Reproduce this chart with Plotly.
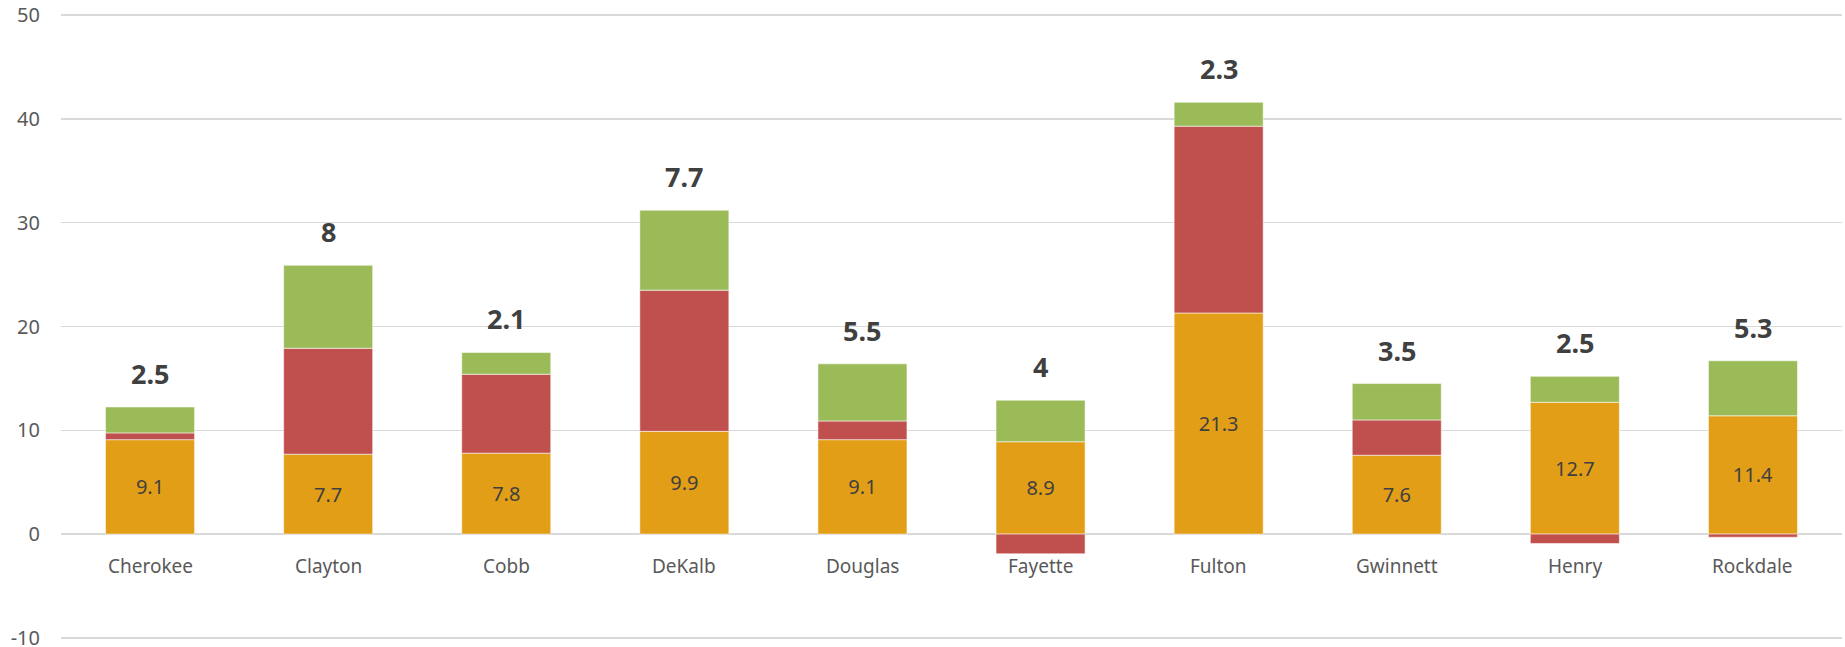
import plotly.graph_objects as go

counties = ["Cherokee", "Clayton", "Cobb", "DeKalb", "Douglas", "Fayette",
            "Fulton", "Gwinnett", "Henry", "Rockdale"]
orange_vals = [9.1, 7.7, 7.8, 9.9, 9.1, 8.9, 21.3, 7.6, 12.7, 11.4]
red_vals = [0.65, 10.2, 7.6, 13.6, 1.8, -1.9, 18.0, 3.4, -0.9, -0.3]
green_vals = [2.5, 8, 2.1, 7.7, 5.5, 4, 2.3, 3.5, 2.5, 5.3]
y_ticks = [-10, 0, 10, 20, 30, 40, 50]

FONT = "Noto Sans"
TXT = "#404040"
line = dict(color="rgba(255,255,255,0.55)", width=1)

fig = go.Figure()
fig.add_trace(go.Bar(
    x=counties, y=orange_vals, marker=dict(color="#E39E17", line=line),
    text=[f"{v:g}" for v in orange_vals], textposition="inside",
    insidetextanchor="middle", textangle=0, constraintext="none",
    textfont=dict(family=FONT, size=20, color=TXT), hoverinfo="skip",
    name="orange"))
fig.add_trace(go.Bar(
    x=counties, y=red_vals, marker=dict(color="#C0504D", line=line),
    hoverinfo="skip", name="red"))
fig.add_trace(go.Bar(
    x=counties, y=green_vals, marker=dict(color="#9BBB59", line=line),
    hoverinfo="skip", name="green"))

annotations = []
for c, o, r, g in zip(counties, orange_vals, red_vals, green_vals):
    top = o + max(r, 0) + g
    annotations.append(dict(
        x=c, y=top, xref="x", yref="y", text=f"<b>{g:g}</b>",
        showarrow=False, yanchor="bottom", yshift=13,
        font=dict(family=FONT, size=27, color=TXT)))
    annotations.append(dict(
        x=c, y=0, xref="x", yref="y", text=c, showarrow=False,
        yanchor="middle", yshift=-32,
        font=dict(family=FONT, size=19, color="#595959")))

fig.update_layout(
    width=1845, height=647,
    margin=dict(l=61, r=3, t=13, b=7, autoexpand=False),
    barmode="relative", bargap=0.5,
    plot_bgcolor="white", paper_bgcolor="white",
    showlegend=False,
    annotations=annotations,
    font=dict(family=FONT, color="#595959"),
)
fig.update_xaxes(showticklabels=False, showgrid=False, zeroline=False,
                 showline=False, ticks="", automargin=False)
fig.update_yaxes(range=[-10.2, 50.2], tickvals=y_ticks,
                 ticktext=[str(v) for v in y_ticks], showgrid=True,
                 gridcolor="#D9D9D9", gridwidth=1.5, zeroline=True,
                 zerolinecolor="#D9D9D9", zerolinewidth=1.5,
                 showline=False, ticks="", ticklabelstandoff=20,
                 ticklabeloverflow="allow", automargin=False,
                 tickfont=dict(family=FONT, size=20, color="#595959"))

fig.write_html("out.html",
               config={"displayModeBar": False, "staticPlot": True},
               post_script="document.body.style.margin='0';"
                           "document.body.style.overflow='hidden';")
